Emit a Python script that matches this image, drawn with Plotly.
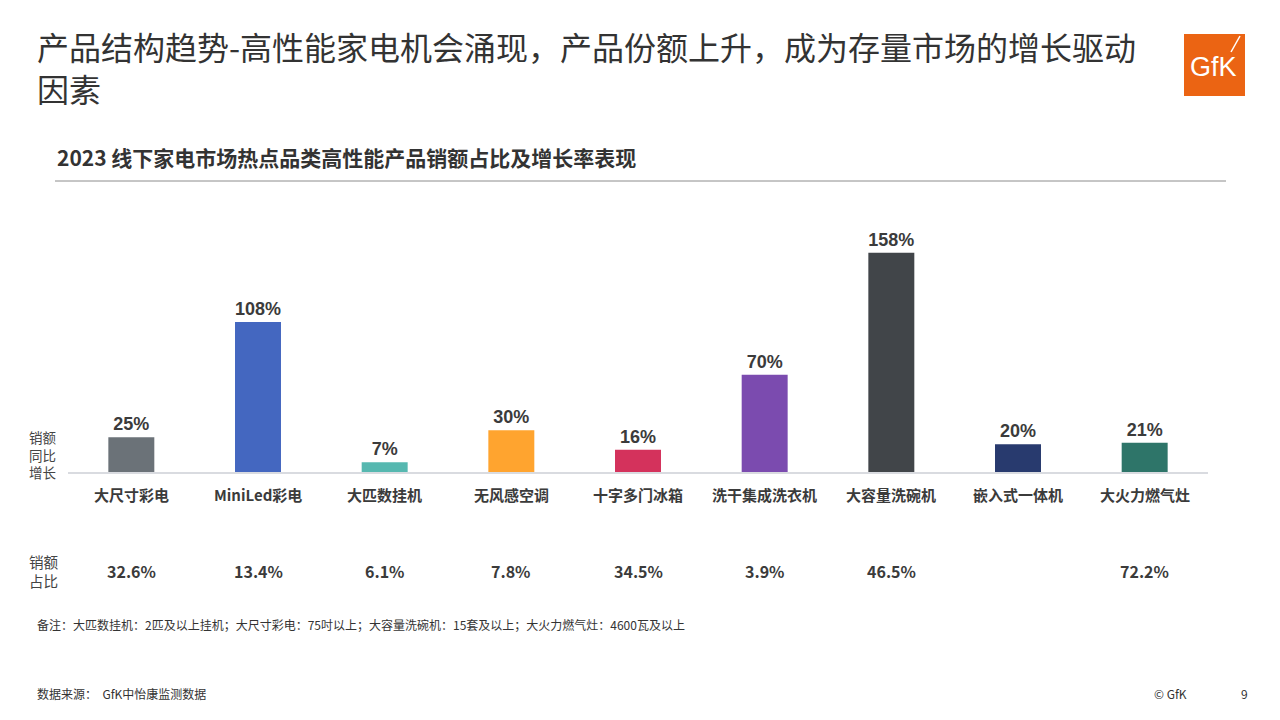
import plotly.graph_objects as go

categories = ['大尺寸彩电', 'MiniLed彩电', '大匹数挂机', '无风感空调', '十字多门冰箱',
              '洗干集成洗衣机', '大容量洗碗机', '嵌入式一体机', '大火力燃气灶']
growth = [25, 108, 7, 30, 16, 70, 158, 20, 21]
share = ['32.6%', '13.4%', '6.1%', '7.8%', '34.5%', '3.9%', '46.5%', '', '72.2%']
bar_colors = ['#6b7278', '#4467c0', '#56b8b0', '#ffa42f', '#d4325c',
              '#7b4baf', '#414549', '#283a6e', '#2e7569']

FONT = 'Noto Sans CJK SC'
DARK = '#3b3b3b'

fig = go.Figure()

fig.add_trace(go.Bar(
    x=categories,
    y=growth,
    marker=dict(color=bar_colors, line=dict(width=0)),
    text=[f'{v}%' for v in growth],
    textposition='outside',
    cliponaxis=False,
    textfont=dict(family='Liberation Sans', size=18, color=DARK, weight='bold'),
    hoverinfo='skip',
))

annotations = []

# category labels under the axis
for c in categories:
    annotations.append(dict(
        x=c, y=0, xref='x', yref='y', text=f'<b>{c}</b>', showarrow=False,
        yanchor='middle', yshift=-22,
        font=dict(family=FONT, size=15, color=DARK),
    ))

# share row
for c, s in zip(categories, share):
    if s:
        annotations.append(dict(
            x=c, y=0, xref='x', yref='y', text=f'<b>{s}</b>', showarrow=False,
            yanchor='middle', yshift=-99,
            font=dict(family=FONT, size=16, color=DARK),
        ))

fig.update_layout(
    width=1280, height=720,
    margin=dict(l=68, r=72, t=200, b=248),
    paper_bgcolor='white', plot_bgcolor='white',
    showlegend=False,
    bargap=0.637,
    xaxis=dict(showline=True, linecolor='#d9dbe0', linewidth=1.5,
               showticklabels=False, ticks='', showgrid=False, zeroline=False,
               fixedrange=True),
    yaxis=dict(range=[0, 196], visible=False, showgrid=False, fixedrange=True),
)

# pixel positions for page-level texts -> paper coordinates
W, H = 1280, 720
L, R, T, B = 68, 72, 200, 248
pw, ph = W - L - R, H - T - B


def px(x):
    return (x - L) / pw


def py(y):
    return (H - B - y) / ph


GREY = '#444444'
TITLE = dict(family=FONT, size=32, color='#333333')
SMALL = dict(family=FONT, size=12, color='#333333')
page_texts = [
    (35, 46, '产品结构趋势-高性能家电机会涌现，产品份额上升，成为存量市场的增长驱动', TITLE, 40),
    (35, 88, '因素', TITLE, 40),
    (55, 157, '<b>2023 线下家电市场热点品类高性能产品销额占比及增长率表现</b>',
     dict(family=FONT, size=21, color='#333333'), None),
    (27, 454, '销额<br>同比<br>增长', dict(family=FONT, size=13.5, color=GREY), None),
    (27, 571, '销额<br>占比', dict(family=FONT, size=14.6, color=GREY), None),
    (35, 624, '备注：大匹数挂机：2匹及以上挂机；大尺寸彩电：75吋以上；大容量洗碗机：15套及以上；大火力燃气灶：4600瓦及以上',
     SMALL, None),
    (35, 693, '数据来源：  GfK中怡康监测数据', SMALL, None),
    (1152, 693, '© GfK', SMALL, None),
    (1239, 693, '9', SMALL, None),
]
for x, y, t, f, h in page_texts:
    a = dict(
        x=px(x), y=py(y), xref='paper', yref='paper', text=t, showarrow=False,
        xanchor='left', yanchor='middle', align='left', font=f,
    )
    if h:
        a['height'] = h
    annotations.append(a)

# GfK logo
annotations.append(dict(
    x=px(1213), y=py(67), xref='paper', yref='paper', text='GfK', showarrow=False,
    xanchor='center', yanchor='middle',
    font=dict(family='Liberation Sans', size=27, color='white'),
))

shapes = [
    dict(type='line', xref='paper', yref='paper',
         x0=px(55), x1=px(1226), y0=py(181), y1=py(181),
         line=dict(color='#8c8c8c', width=1)),
    dict(type='rect', xref='paper', yref='paper',
         x0=px(1184), x1=px(1245), y0=py(96), y1=py(34),
         fillcolor='#eb6413', line=dict(width=0), layer='below'),
    dict(type='line', xref='paper', yref='paper',
         x0=px(1231), x1=px(1240), y0=py(52), y1=py(36),
         line=dict(color='white', width=1.5)),
]

fig.update_layout(annotations=annotations, shapes=shapes)

fig.write_html('out.html', config={'displayModeBar': False},
               post_script="document.body.style.margin='0';")
